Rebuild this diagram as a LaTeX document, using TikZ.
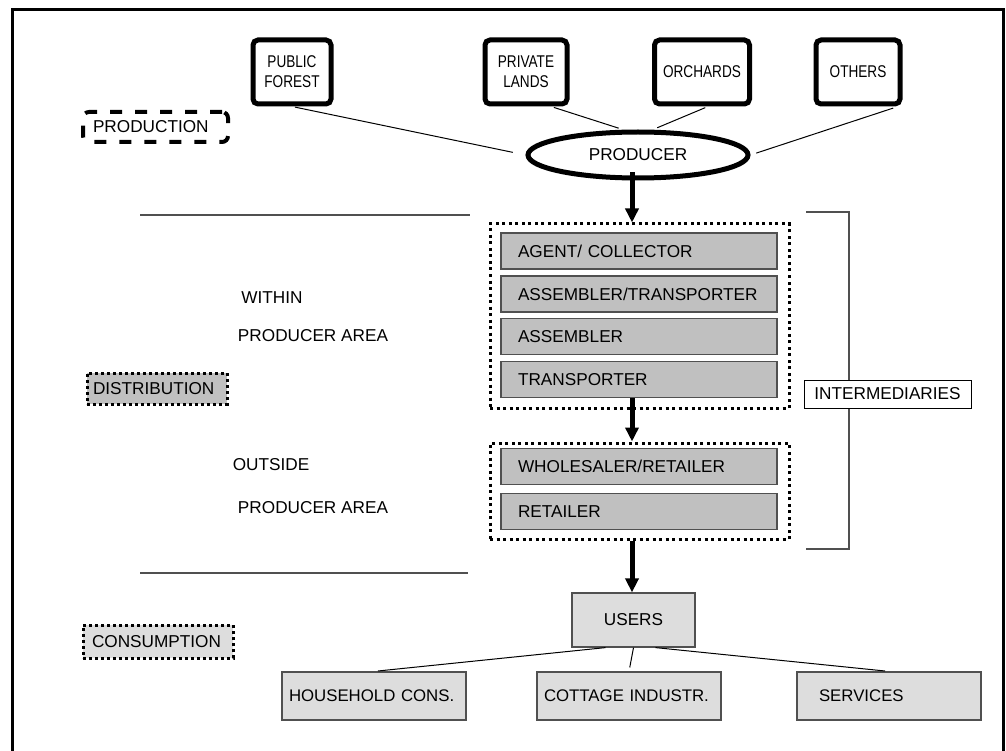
\documentclass[tikz,border=0pt]{standalone}
\usepackage{fontspec}
\setmainfont{Liberation Sans}
\newfontfamily\narrowsans[FakeStretch=0.8]{Liberation Sans}
\usetikzlibrary{arrows.meta,shapes.geometric}
\definecolor{gmid}{HTML}{C0C0C0}
\definecolor{glight}{HTML}{DDDDDD}
\definecolor{lgray}{HTML}{505050}
\begin{document}
\begin{tikzpicture}[x=1pt,y=-1pt,
  every node/.style={font=\fontsize{17.2}{20}\selectfont, inner sep=0pt},
  topbox/.style={draw, line width=5pt, rounded corners=5pt, fill=white, align=center, minimum height=64pt, font=\narrowsans\fontsize{17}{20}\selectfont},
  graybox/.style={draw=lgray, line width=1.2pt, fill=gmid, minimum width=276pt, minimum height=36pt, text width=242pt, align=left},
  lightbox/.style={draw=lgray, line width=1.2pt, fill=glight},
  consbox/.style={lightbox, minimum width=184pt, minimum height=48pt, align=left, font=\fontsize{16.8}{20}\selectfont},
  dotbox/.style={draw, line width=3pt, dash pattern=on 3pt off 3.5pt},
  sidedot/.style={draw, line width=3pt, dash pattern=on 3pt off 3pt, align=left},
  thinline/.style={draw=black, line width=1pt},
  grayline/.style={draw=lgray, line width=1.5pt},
  bigarrow/.style={line width=5pt, -{Triangle[width=13pt,length=14pt]}}
]
\useasboundingbox (0,0) rectangle (1006,751);
% frame
\draw[line width=3pt] (12,770) -- (12,10) -- (1003,10) -- (1003,770);

% top sources
\node[topbox, minimum width=78pt] (pubf) at (292,72) {PUBLIC\\FOREST};
\node[topbox, minimum width=82pt] (privl) at (526,72) {PRIVATE\\LANDS};
\node[topbox, minimum width=95pt] (orch) at (702,72) {ORCHARDS};
\node[topbox, minimum width=84pt] (oth) at (858,72) {OTHERS};

% producer
\node[ellipse, draw, line width=5pt, minimum width=220pt, minimum height=46pt, fill=white] (producer) at (638,155) {PRODUCER};

\draw[thinline, shorten <=3pt, shorten >=13pt] (pubf.south) -- (producer.west);
\draw[thinline, shorten <=3pt, shorten >=5pt] ([xshift=25pt]privl.south) -- (producer.120);
\draw[thinline, shorten <=3pt, shorten >=5pt] ([xshift=6pt]orch.south) -- (producer.60);
\draw[thinline, shorten <=5pt, shorten >=6pt] ([xshift=40pt]oth.south) -- (producer.east);

% side labels
\node[draw, line width=4pt, dash pattern=on 12pt off 13pt, rounded corners=6pt, minimum width=145pt, minimum height=30pt, text width=125pt, align=left] (production) at (155.5,127) {PRODUCTION};
\node[sidedot, fill=gmid, minimum width=140pt, minimum height=31pt, text width=128pt] (distribution) at (157,388.5) {DISTRIBUTION};
\node[sidedot, fill=glight, minimum width=150pt, minimum height=33pt, text width=132pt] (consumption) at (158,641.5) {CONSUMPTION};

% area separators and labels
\coordinate (l1a) at (140,215); \coordinate (l1b) at (470,215);
\coordinate (l2a) at (140,573); \coordinate (l2b) at (468,573);
\draw[grayline] (l1a) -- (l1b);
\draw[grayline] (l2a) -- (l2b);
\node (within) at (272,298) {WITHIN};
\node (parea1) at (313,336) {PRODUCER AREA};
\node (outside) at (271,465) {OUTSIDE};
\node (parea2) at (313,508) {PRODUCER AREA};

% intermediary groups
\node[dotbox, minimum width=299pt, minimum height=184pt] (grpA) at (639.5,316) {};
\node[dotbox, minimum width=299pt, minimum height=96pt] (grpB) at (639.5,491) {};
\node[graybox] (agent) at (639,251) {AGENT/ COLLECTOR};
\node[graybox] (asmtr) at (639,294) {ASSEMBLER/TRANSPORTER};
\node[graybox] (asm) at (639,336.5) {ASSEMBLER};
\node[graybox] (trans) at (639,379.5) {TRANSPORTER};
\node[graybox] (whole) at (639,466.5) {WHOLESALER/RETAILER};
\node[graybox] (retail) at (639,511.5) {RETAILER};

\coordinate (ax) at (632,0);
\draw[bigarrow] (producer.south -| ax) ++(0,-8) -- (grpA.north -| ax);
\draw[bigarrow] (trans.south -| ax) -- (grpB.north -| ax);

% bracket
\coordinate (bt) at (806,212); \coordinate (bb) at (806,549);
\draw[grayline] (bt) -- (849,212) -- (849,549) -- (bb);
\node[draw, line width=1pt, fill=white, minimum width=167pt, minimum height=28pt] (inter) at (887.5,394) {INTERMEDIARIES};

% users
\node[lightbox, minimum width=123pt, minimum height=54pt] (users) at (633.5,620) {USERS};
\draw[bigarrow] (grpB.south -| ax) -- (users.north -| ax);

\node[consbox, text width=170pt] (house) at (374,696) {HOUSEHOLD CONS.};
\node[consbox, text width=170pt] (cott) at (629,696) {COTTAGE INDUSTR.};
\node[consbox, text width=140pt] (serv) at (889,696) {SERVICES};

\draw[thinline, shorten >=4pt] ([xshift=-28pt]users.south) -- (house.north);
\draw[thinline, shorten >=4pt] (users.south) -- (cott.north);
\draw[thinline, shorten >=4pt] ([xshift=22pt]users.south) -- (serv.north);
\end{tikzpicture}
\end{document}
